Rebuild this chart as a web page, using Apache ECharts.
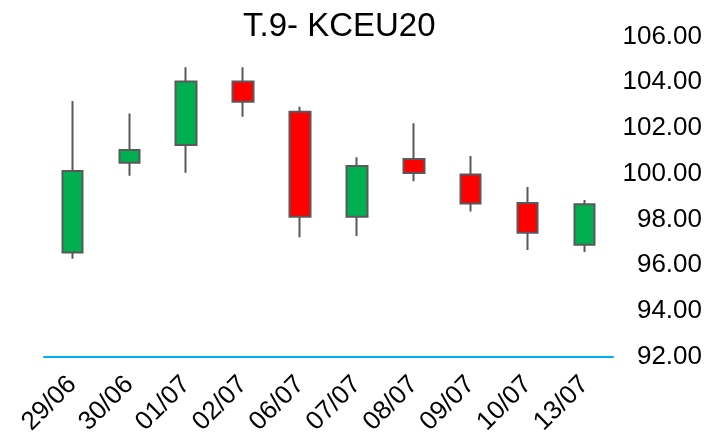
<!DOCTYPE html>
<html>
<head>
<meta charset="utf-8">
<script src="https://cdn.jsdelivr.net/npm/echarts@6/dist/echarts.min.js"></script>
<style>html,body{margin:0;padding:0;background:#fff;}#c{width:708px;height:439px;}</style>
</head>
<body>
<div id="c"></div>
<script>
var categories = ['29/06','30/06','01/07','02/07','06/07','07/07','08/07','09/07','10/07','13/07'];
var openVals  = [96.55, 100.48, 101.26, 104.03, 102.71, 98.12, 100.64, 99.97, 98.72, 96.89];
var closeVals = [100.12, 101.04, 104.03, 103.15, 98.12, 100.34, 100.03, 98.70, 97.42, 98.66];
var lowVals   = [96.28, 99.91, 100.04, 102.49, 97.22, 97.27, 99.67, 98.35, 96.66, 96.57];
var highVals  = [103.18, 102.64, 104.66, 104.66, 102.93, 100.72, 102.21, 100.77, 99.42, 98.85];
var yMin = 92, yMax = 106, yStep = 2;

var candleData = categories.map(function(c, i){
  return [openVals[i], closeVals[i], lowVals[i], highVals[i]];
});

var chart = echarts.init(document.getElementById('c'), null, {renderer:'canvas'});
chart.setOption({
  animation: false,
  backgroundColor: '#ffffff',
  title: {
    text: 'T.9- KCEU20',
    left: 238, top: 5,
    textStyle: {fontFamily: 'Liberation Sans, Arial, sans-serif', fontSize: 33, fontWeight: 'normal', color: '#000'}
  },
  grid: {left: 44, right: 95, top: 36.6, bottom: 82.5, containLabel: false},
  xAxis: {
    type: 'category',
    data: categories,
    boundaryGap: true,
    axisLine: {show: true, lineStyle: {color: '#00B0F0', width: 2}},
    axisTick: {show: false},
    splitLine: {show: false},
    axisLabel: {
      rotate: 45, interval: 0, margin: 24,
      fontFamily: 'Liberation Sans, Arial, sans-serif', fontSize: 26, color: '#000'
    }
  },
  yAxis: {
    type: 'value',
    position: 'right',
    min: yMin, max: yMax, interval: yStep,
    axisLine: {show: false},
    axisTick: {show: false},
    splitLine: {show: false},
    axisLabel: {
      align: 'right', margin: 89,
      fontFamily: 'Liberation Sans, Arial, sans-serif', fontSize: 26, color: '#000',
      formatter: function(v){ return v.toFixed(2); }
    }
  },
  series: [{
    type: 'candlestick',
    data: candleData,
    barWidth: 21,
    itemStyle: {
      color: '#00B050',
      color0: '#FF0000',
      borderColor: '#595959',
      borderColor0: '#595959',
      borderWidth: 2
    }
  }]
});
</script>
</body>
</html>
